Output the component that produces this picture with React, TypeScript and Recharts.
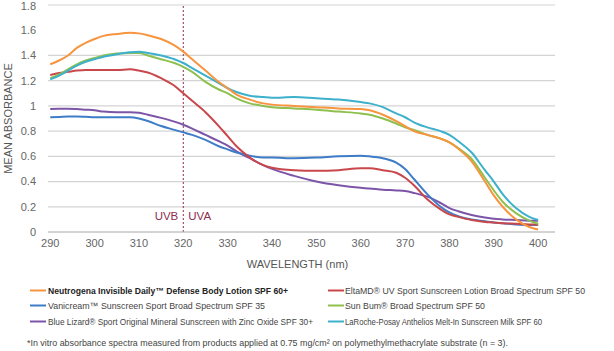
import React from "react"
import { LineChart, Line, XAxis, YAxis, CartesianGrid, ReferenceLine, Label } from "recharts"

// wavelength (nm) sample points
const wavelengths = [
  290, 292, 294, 296, 298, 300, 302, 305, 308, 310, 312, 315, 318, 320, 322, 325, 328, 330, 332, 335, 338,
  340, 345, 350, 355, 360, 362, 365, 368, 370, 372, 375, 378, 380, 382, 385, 388, 390, 392, 395, 398, 400,
]

const neutrogena = [
  1.33, 1.36, 1.4, 1.46, 1.5, 1.53, 1.555, 1.57, 1.58, 1.575, 1.56, 1.53, 1.48, 1.43, 1.37, 1.28, 1.19, 1.14, 1.09, 1.05, 1.02,
  1.01, 1.0, 0.99, 0.98, 0.975, 0.965, 0.93, 0.88, 0.84, 0.8, 0.77, 0.74, 0.71, 0.66, 0.56, 0.4, 0.29, 0.2, 0.1, 0.04, 0.02,
]
const vanicream = [
  0.91, 0.912, 0.915, 0.915, 0.913, 0.91, 0.91, 0.91, 0.91, 0.9, 0.88, 0.84, 0.81, 0.79, 0.77, 0.73, 0.68, 0.655, 0.63, 0.605, 0.59,
  0.59, 0.585, 0.59, 0.6, 0.605, 0.6, 0.585, 0.55, 0.5, 0.42, 0.3, 0.2, 0.155, 0.125, 0.1, 0.085, 0.075, 0.07, 0.06, 0.055, 0.055,
]
const blueLizard = [
  0.975, 0.978, 0.978, 0.975, 0.97, 0.965, 0.955, 0.95, 0.95, 0.945, 0.93, 0.905, 0.875, 0.85, 0.82, 0.77, 0.72, 0.685, 0.64, 0.585, 0.53,
  0.5, 0.445, 0.4, 0.37, 0.35, 0.345, 0.335, 0.33, 0.325, 0.31, 0.28, 0.23, 0.19, 0.165, 0.135, 0.115, 0.105, 0.1, 0.095, 0.09, 0.09,
]
const eltaMD = [
  1.245, 1.26, 1.27, 1.28, 1.285, 1.285, 1.285, 1.285, 1.29, 1.28, 1.265, 1.22, 1.16, 1.1, 1.04, 0.95, 0.84, 0.76, 0.68, 0.59, 0.53,
  0.51, 0.49, 0.485, 0.49, 0.505, 0.505, 0.49, 0.47, 0.43, 0.37, 0.26, 0.18, 0.14, 0.12, 0.095, 0.08, 0.075, 0.07, 0.065, 0.06, 0.06,
]
const sunBum = [
  1.22, 1.25, 1.29, 1.33, 1.36, 1.38, 1.4, 1.415, 1.42, 1.42, 1.4, 1.37, 1.34, 1.31, 1.27, 1.19, 1.13, 1.1, 1.06, 1.02, 1.0,
  0.99, 0.98, 0.97, 0.955, 0.94, 0.93, 0.9, 0.86, 0.83, 0.81, 0.77, 0.74, 0.71, 0.665, 0.58, 0.43, 0.33, 0.24, 0.15, 0.09, 0.065,
]
const laRoche = [
  1.21, 1.24, 1.28, 1.32, 1.35, 1.37, 1.39, 1.41, 1.425, 1.43, 1.42, 1.4, 1.37, 1.34, 1.3, 1.24, 1.18, 1.14, 1.11, 1.08, 1.07,
  1.065, 1.07, 1.06, 1.05, 1.03, 1.02, 0.99, 0.94, 0.91, 0.87, 0.83, 0.8, 0.77, 0.72, 0.63, 0.49, 0.4, 0.3, 0.19, 0.12, 0.095,
]

const xTicks = [290, 300, 310, 320, 330, 340, 350, 360, 370, 380, 390, 400]
const yTicks = [0, 0.2, 0.4, 0.6, 0.8, 1, 1.2, 1.4, 1.6, 1.8]

const SERIES = [
  { key: "neutrogena", name: "Neutrogena Invisible Daily\u2122 Defense Body Lotion SPF 60+", color: "#F7953F", bold: true },
  { key: "vanicream", name: "Vanicream\u2122 Sunscreen Sport Broad Spectrum SPF 35", color: "#3F7CC8", bold: false },
  { key: "blueLizard", name: "Blue Lizard\u00ae Sport Original Mineral Sunscreen with Zinc Oxide SPF 30+", color: "#7D55A8", bold: false },
  { key: "eltaMD", name: "EltaMD\u00ae UV Sport Sunscreen Lotion Broad Spectrum SPF 50", color: "#C9474B", bold: false },
  { key: "sunBum", name: "Sun Bum\u00ae Broad Spectrum SPF 50", color: "#8DC04F", bold: false },
  { key: "laRoche", name: "LaRoche-Posay Anthelios Melt-In Sunscreen Milk SPF 60", color: "#3DB0CC", bold: false },
]

const FOOTNOTE =
  "*In vitro absorbance spectra measured from products applied at 0.75 mg/cm\u00b2 on polymethylmethacrylate substrate (n = 3)."

const FONT = '"Liberation Sans", Arial, Helvetica, sans-serif'
const UV_COLOR = "#8E2D50"

// legend layout (text widths)
const LEGEND_ROWS_Y = [290.5, 305.5, 321.5]
const LEGEND_COLS = [
  { lineX: 30, textX: 48, widths: [240, 217, 265] },
  { lineX: 328, textX: 345, widths: [240, 140, 197] },
]

const data = wavelengths.map((w, i) => ({
  w,
  neutrogena: neutrogena[i],
  vanicream: vanicream[i],
  blueLizard: blueLizard[i],
  eltaMD: eltaMD[i],
  sunBum: sunBum[i],
  laRoche: laRoche[i],
}))

// draw order: back to front
const drawOrder = ["blueLizard", "vanicream", "eltaMD", "sunBum", "laRoche", "neutrogena"]

function UvLabel({ viewBox }: { viewBox?: { x: number; y: number; height: number } }) {
  if (!viewBox) return null
  const y = viewBox.y + viewBox.height - 12
  return (
    <g fontFamily={FONT} fontSize={11.5} fill={UV_COLOR}>
      <text x={viewBox.x - 5} y={y} textAnchor="end">UVB</text>
      <text x={viewBox.x + 5} y={y} textAnchor="start">UVA</text>
    </g>
  )
}

function Legend() {
  return (
    <svg width={614} height={351} style={{ position: "absolute", left: 0, top: 0, pointerEvents: "none" }}>
      {LEGEND_COLS.map((col, c) =>
        SERIES.slice(c * 3, c * 3 + 3).map((s, r) => {
          const y = LEGEND_ROWS_Y[r]
          return (
            <g key={s.key}>
              <line x1={col.lineX} x2={col.lineX + 16} y1={y} y2={y} stroke={s.color} strokeWidth={2} />
              <text
                x={col.textX}
                y={y}
                dominantBaseline="central"
                fontFamily={FONT}
                fontSize={9}
                fontWeight={s.bold ? 700 : 400}
                fill={s.bold ? "#222" : "#444"}
                textLength={col.widths[r]}
                lengthAdjust="spacingAndGlyphs"
              >
                {s.name}
              </text>
            </g>
          )
        })
      )}
      <text x={27} y={343} dominantBaseline="central" fontFamily={FONT} fontSize={8.8} fill="#444" textLength={481} lengthAdjust="spacingAndGlyphs">
        {FOOTNOTE}
      </text>
    </svg>
  )
}

export default function App() {
  return (
    <div style={{ position: "absolute", left: 0, top: 0, width: 614, height: 351, background: "#fff", fontFamily: FONT }}>
      <LineChart width={614} height={272} data={data} margin={{ top: 5, right: 59, left: 0, bottom: 0 }}>
        <CartesianGrid vertical={false} stroke="#d4d4d4" strokeWidth={1.2} />
        <XAxis
          dataKey="w"
          type="number"
          domain={[289.5, 403.8]}
          ticks={xTicks}
          interval={0}
          height={40}
          tickLine={false}
          axisLine={{ stroke: "#bdbdbd", strokeWidth: 1.2 }}
          tickMargin={1}
          tick={{ fontSize: 11, fill: "#666", fontFamily: FONT }}
        >
          <Label
            content={({ viewBox }: any) => (
              <text x={viewBox.x + viewBox.width / 2 - 4} y={viewBox.y + 36} textAnchor="middle" fontSize={11} fill="#555" fontFamily={FONT}>
                WAVELENGTH (nm)
              </text>
            )}
          />
        </XAxis>
        <YAxis
          type="number"
          domain={[0, 1.8]}
          ticks={yTicks}
          width={48}
          tickLine={false}
          axisLine={false}
          tickMargin={6}
          tick={{ fontSize: 11, fill: "#666", fontFamily: FONT }}
        >
          <Label
            content={({ viewBox }: any) => {
              const cx = 8
              const cy = viewBox.y + viewBox.height / 2
              return (
                <text x={cx} y={cy} transform={`rotate(-90 ${cx} ${cy})`} textAnchor="middle" dominantBaseline="central" fontSize={11} fill="#555" fontFamily={FONT}>
                  MEAN ABSORBANCE
                </text>
              )
            }}
          />
        </YAxis>
        <ReferenceLine x={320} stroke={UV_COLOR} strokeDasharray="2 2" strokeWidth={1} label={<UvLabel />} />
        {drawOrder.map((k) => {
          const s = SERIES.find((x) => x.key === k)!
          return (
            <Line
              key={k}
              type="monotone"
              dataKey={k}
              name={s.name}
              stroke={s.color}
              strokeWidth={2}
              dot={false}
              isAnimationActive={false}
            />
          )
        })}
      </LineChart>
      <Legend />
    </div>
  )
}
